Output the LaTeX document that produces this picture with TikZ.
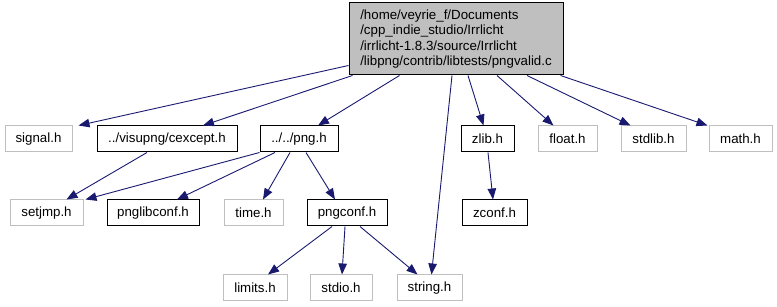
\documentclass[tikz,border=0pt]{standalone}
\usepackage{fontspec}
\setmainfont{Liberation Sans}
\usetikzlibrary{arrows.meta,calc}
\definecolor{edgeblue}{HTML}{191970}
\definecolor{boxgrey}{HTML}{BFBFBF}
\begin{document}
\begin{tikzpicture}[x=1pt,y=-1pt,
  font=\fontsize{13.3}{15.6}\selectfont,
  filebox/.style={draw=black,line width=1pt,fill=white,inner sep=0pt,minimum height=26pt},
  sysbox/.style={draw=boxgrey,line width=1pt,fill=white,inner sep=0pt,minimum height=26pt},
  edge/.style={draw=edgeblue,line width=0.9pt,-{Triangle[length=11pt,width=8.5pt]}}]
\useasboundingbox (0,0) rectangle (777,307);

% main file
\node[draw=black,line width=1pt,fill=boxgrey,minimum width=214pt,minimum height=72pt,
      inner sep=0pt,align=left] (root) at (456,39)
  {/home/veyrie\_f/Documents\\/cpp\_indie\_studio/Irrlicht\\/irrlicht-1.8.3/source/Irrlicht\\/libpng/contrib/libtests/pngvalid.c};

% first level
\node[sysbox,minimum width=67pt]  (signal)  at (38.5,139)  {signal.h};
\node[filebox,minimum width=140pt] (cexcept) at (167,139)  {../visupng/cexcept.h};
\node[filebox,minimum width=78pt] (png)     at (299,139)   {../../png.h};
\node[filebox,minimum width=53pt] (zlib)    at (487.5,139) {zlib.h};
\node[sysbox,minimum width=59pt]  (float)   at (567.5,139) {float.h};
\node[sysbox,minimum width=65pt]  (stdlib)  at (653.5,139) {stdlib.h};
\node[sysbox,minimum width=63pt]  (math)    at (740.5,139) {math.h};

% second level
\node[sysbox,minimum width=73pt]  (setjmp)     at (46.5,213) {setjmp.h};
\node[filebox,minimum width=92pt] (pnglibconf) at (153,213)  {pnglibconf.h};
\node[sysbox,minimum width=59pt]  (time)       at (253.5,213) {time.h};
\node[filebox,minimum width=80pt] (pngconf)    at (347,213)  {pngconf.h};
\node[filebox,minimum width=65pt] (zconf)      at (494.5,213) {zconf.h};

% third level
\node[sysbox,minimum width=64pt] (limits) at (255,288)   {limits.h};
\node[sysbox,minimum width=62pt] (stdio)  at (341,288)   {stdio.h};
\node[sysbox,minimum width=65pt] (string) at (429.5,288) {string.h};

% includes of the main file
\draw[edge] ($(root.south west)+(0,-10)$) -- ($(signal.north east)+(6,0)$);
\draw[edge] ($(root.south west)+(4,0)$)   -- ($(cexcept.north)+(36,0)$);
\draw[edge] ($(root.south west)+(51,0)$)  -- ($(png.north)+(19,0)$);
\draw[edge] ($(root.south)+(-4,0)$)       -- ($(string.north)+(2,0)$);
\draw[edge] ($(root.south)+(12,0)$)       -- ($(zlib.north)+(-4,0)$);
\draw[edge] ($(root.south)+(41,0)$)       -- ($(float.north)+(-14,0)$);
\draw[edge] ($(root.south)+(71,0)$)       -- ($(stdlib.north)+(-23,0)$);
\draw[edge] ($(root.south east)+(-3,0)$)  -- ($(math.north west)+(-1,0)$);

% nested includes
\draw[edge] ($(cexcept.south)+(-20,0)$) -- ($(setjmp.north)+(20,0)$);
\draw[edge] (png.south west)            -- ($(setjmp.north east)+(2,0)$);
\draw[edge] ($(png.south)+(-24,0)$)     -- ($(pnglibconf.north)+(24,0)$);
\draw[edge] ($(png.south)+(-9,0)$)      -- ($(time.north)+(9.5,0)$);
\draw[edge] ($(png.south)+(7,0)$)       -- ($(pngconf.north)+(-12,0)$);
\draw[edge] ($(pngconf.south)+(-15,0)$) -- ($(limits.north)+(13,0)$);
\draw[edge] ($(pngconf.south)+(-2,0)$)  -- ($(stdio.north)+(1,0)$);
\draw[edge] ($(pngconf.south)+(13,0)$)  -- ($(string.north)+(-12,0)$);
\draw[edge] ($(zlib.south)+(0.5,0)$)    -- ($(zconf.north)+(-1.5,0)$);
\end{tikzpicture}
\end{document}
